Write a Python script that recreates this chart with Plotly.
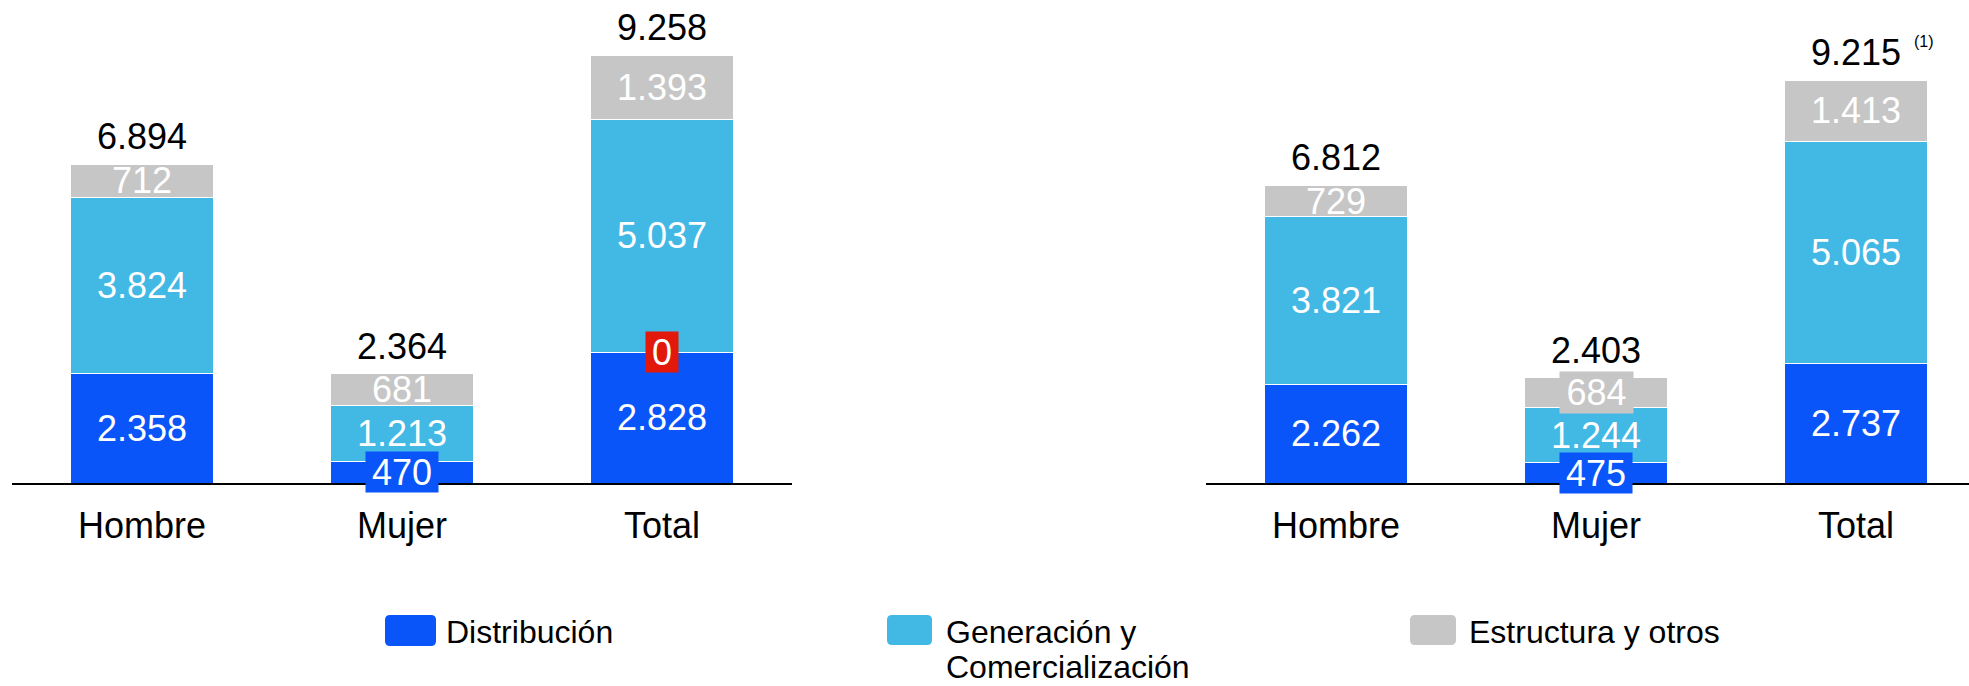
import plotly.graph_objects as go

# ---------------- data ----------------
categorias = ["Hombre", "Mujer", "Total"]
series = ["Distribución", "Generación y Comercialización", "Estructura y otros"]

# left panel
dist_izq = [2358, 470, 2828]
gen_izq = [3824, 1213, 5037]
estr_izq = [712, 681, 1393]
# right panel
dist_der = [2262, 475, 2737]
gen_der = [3821, 1244, 5065]
estr_der = [729, 684, 1413]

ajuste_total_izq = 0          # red "0" label on left Total
nota_total_der = "(1)"        # footnote mark on right Total

# ---------------- style ----------------
W, H = 1969, 686
FONT = "Liberation Sans, Arial, sans-serif"
colores = ["#0A55FA", "#42B8E5", "#C6C6C6"]
ROJO = "#E2190A"
AXIS_Y = 483  # pixel row of the baseline


def fmt(v):
    return f"{v:,}".replace(",", ".")


def px_x(p):
    return p / W


def px_y(p):
    return (H - p) / H


fig = go.Figure()

paneles = [
    ("x", "y", [dist_izq, gen_izq, estr_izq]),
    ("x2", "y2", [dist_der, gen_der, estr_der]),
]

annotations = []
# labels that get a coloured box: (panel, serie, categoria) -> (w, h)
cajas = {(0, 0, 1): (72, 40), (1, 0, 1): (72, 40), (1, 2, 1): (73, 41)}

for pi, (xr, yr, datos) in enumerate(paneles):
    for si, (nombre, vals) in enumerate(zip(series, datos)):
        fig.add_trace(go.Bar(
            x=categorias, y=vals, name=nombre, xaxis=xr, yaxis=yr,
            marker=dict(color=colores[si], line=dict(color="white", width=1)),
            width=0.55, showlegend=False, hoverinfo="skip",
        ))
    # segment labels
    for ci, cat in enumerate(categorias):
        base = 0
        for si, vals in enumerate(datos):
            v = vals[ci]
            ann = dict(x=cat, y=base + v / 2, xref=xr, yref=yr, text=fmt(v),
                       showarrow=False, font=dict(family=FONT, size=36, color="white"),
                       xanchor="center", yanchor="middle", borderpad=0)
            if (pi, si, ci) in cajas:
                w, h = cajas[(pi, si, ci)]
                ann.update(bgcolor=colores[si], width=w, height=h)
            annotations.append(ann)
            base += v
        # total label
        annotations.append(dict(x=cat, y=base, xref=xr, yref=yr, text=fmt(base),
                                showarrow=False, font=dict(family=FONT, size=36, color="black"),
                                xanchor="center", yanchor="bottom", yshift=6, borderpad=0))

# red zero label at top of Distribución on left Total
annotations.append(dict(x="Total", y=dist_izq[2], xref="x", yref="y", text=str(ajuste_total_izq),
                        showarrow=False, font=dict(family=FONT, size=36, color="white"),
                        bgcolor=ROJO, width=32, height=40, borderpad=0,
                        xanchor="center", yanchor="middle"))
# footnote mark
tot_der = dist_der[2] + gen_der[2] + estr_der[2]
annotations.append(dict(x="Total", y=tot_der, xref="x2", yref="y2", text=nota_total_der,
                        showarrow=False, font=dict(family=FONT, size=16, color="black"),
                        xanchor="center", yanchor="middle", xshift=68, yshift=39))

# legend (manual)
shapes = []


def rrect(x0, y0, x1, y1, r):
    # pixel coords -> paper path with rounded corners
    X = lambda p: px_x(p)
    Y = lambda p: px_y(p)
    return (f"M {X(x0 + r)} {Y(y0)} L {X(x1 - r)} {Y(y0)} Q {X(x1)} {Y(y0)} {X(x1)} {Y(y0 + r)} "
            f"L {X(x1)} {Y(y1 - r)} Q {X(x1)} {Y(y1)} {X(x1 - r)} {Y(y1)} "
            f"L {X(x0 + r)} {Y(y1)} Q {X(x0)} {Y(y1)} {X(x0)} {Y(y1 - r)} "
            f"L {X(x0)} {Y(y0 + r)} Q {X(x0)} {Y(y0)} {X(x0 + r)} {Y(y0)} Z")


leg_swatch = [(385, 615, 436, 646), (887, 615, 932, 645), (1410, 615, 1456, 645)]
leg_text_x = [444.5, 944.5, 1467.5]
leg_lines = [["Distribución"], ["Generación y", "Comercialización"], ["Estructura y otros"]]
leg_line_y = [632, 666.5]
for i in range(3):
    x0, y0, x1, y1 = leg_swatch[i]
    shapes.append(dict(type="path", xref="paper", yref="paper", path=rrect(x0, y0, x1, y1, 5),
                       fillcolor=colores[i], line=dict(width=0)))
    for li, t in enumerate(leg_lines[i]):
        annotations.append(dict(x=px_x(leg_text_x[i]), y=px_y(leg_line_y[li]), xref="paper", yref="paper",
                                text=t, showarrow=False, xanchor="left", yanchor="middle",
                                font=dict(family=FONT, size=32, color="black"), borderpad=0))

ydom = [px_y(AXIS_Y), 1]
axis_common = dict(showline=True, linecolor="black", linewidth=2, ticks="", showgrid=False,
                   zeroline=False, tickfont=dict(family=FONT, size=36, color="black"),
                   ticklabelstandoff=10, type="category")
fig.update_layout(
    width=W, height=H, margin=dict(l=0, r=0, t=0, b=0),
    paper_bgcolor="white", plot_bgcolor="white",
    barmode="stack", showlegend=False,
    xaxis=dict(domain=[px_x(12), px_x(792)], range=[-0.5, 2.5], anchor="y", **axis_common),
    xaxis2=dict(domain=[px_x(1206), 1], range=[-0.5, -0.5 + (W - 1206) / 260], anchor="y2", **axis_common),
    yaxis=dict(domain=ydom, range=[0, 483 * 9258 / 428], visible=False, anchor="x"),
    yaxis2=dict(domain=ydom, range=[0, 483 * 9215 / 403], visible=False, anchor="x2"),
    annotations=annotations, shapes=shapes,
)

fig.write_html("out.html", config={"displayModeBar": False},
               post_script="document.body.style.margin='0';document.body.style.overflow='hidden';")
